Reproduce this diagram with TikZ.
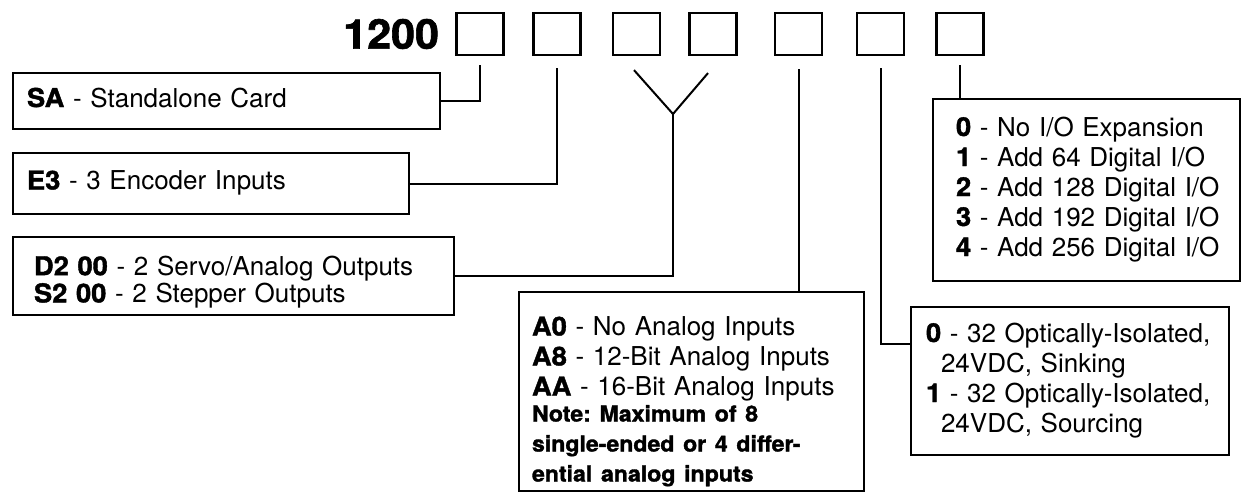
\documentclass[tikz,border=0pt]{standalone}
\usepackage{fontspec}
\setmainfont{TeX Gyre Heros}
\newfontfamily\blackfont{texgyreheros-bold.otf}[FakeBold=1.5,FakeStretch=1.05]
\usepackage{tikz}
\usetikzlibrary{positioning}
\frenchspacing
\newcommand{\optcode}[1]{{\blackfont #1}}
\newcommand{\optlist}[1]{\begin{tabular}{@{}l@{}}#1\end{tabular}}
\newcommand{\notefont}{\fontsize{11}{15}\selectfont\blackfont}
\tikzset{
    digitbox/.style={rectangle, draw, line width=1.1pt, minimum width=23.5pt, minimum height=21pt, inner sep=0pt},
    optbox/.style={rectangle, draw, line width=1pt, anchor=north west, align=left, inner ysep=0pt, font=\fontsize{13}{15}\selectfont},
    link/.style={draw, line width=1pt}
}

\begin{document}
\begin{tikzpicture}[x=0.5pt, y=-0.5pt]
    \useasboundingbox (0,0) rectangle (1243,498);
    \foreach \n/\x in {1/480,2/557,3/636.5,4/713,5/798.5,6/880.5,7/960}
        \node[digitbox] (d\n) at (\x,34) {};
    \node[left=8pt of d1, inner sep=0pt, font=\fontsize{20.5}{20.5}\selectfont\blackfont] (model) {1200};

    \node[optbox, text width=199.5pt, inner xsep=7pt, minimum height=28pt] (sa) at (12,72) {
        \optlist{\optcode{SA} - Standalone Card}};
    \node[optbox, text width=184pt, inner xsep=7pt, minimum height=30.5pt] (e3) at (12,152) {
        \optlist{\optcode{E3} - 3 Encoder Inputs}};
    \node[optbox, text width=199.5pt, inner xsep=10.5pt, minimum height=39pt, font=\fontsize{13}{13}\selectfont] (d2box) at (12,236) {
        \optlist{\noalign{\vskip 7pt}
        \optcode{D2 00} - 2 Servo/Analog Outputs\\
        \optcode{S2 00} - 2 Stepper Outputs}};
    \node[optbox, text width=159.5pt, inner xsep=6.5pt, minimum height=99.5pt] (a0) at (518,291) {
        \optlist{\noalign{\vskip 11pt}
        \optcode{A0} - No Analog Inputs\\
        \optcode{A8} - 12-Bit Analog Inputs\\
        \optcode{AA} - 16-Bit Analog Inputs\\ \noalign{\vskip-2pt}
        \notefont Note: Maximum of 8\\
        \notefont single-ended or 4 differ-\\
        \notefont ential analog inputs}};
    \node[optbox, text width=130.5pt, inner xsep=11.5pt, minimum height=91pt] (exp) at (932,98) {
        \optlist{\optcode{0} - No I/O Expansion\\
        \optcode{1} - Add 64 Digital I/O\\
        \optcode{2} - Add 128 Digital I/O\\
        \optcode{3} - Add 192 Digital I/O\\
        \optcode{4} - Add 256 Digital I/O}};
    \node[optbox, text width=144pt, inner xsep=7.5pt, minimum height=74pt] (iso) at (910,306) {
        \optlist{\optcode{0} - 32 Optically-Isolated,\\
        \hspace*{7.5pt}24VDC, Sinking\\
        \optcode{1} - 32 Optically-Isolated,\\
        \hspace*{7.5pt}24VDC, Sourcing}};

    \coordinate (vtip) at (673,114);
    \draw[link] ([yshift=-4.5pt]d1.south) |- (sa);
    \draw[link] ([yshift=-6pt]d2.south) |- (e3);
    \draw[link] ([xshift=-1.25pt,yshift=-7pt]d3.south) -- (vtip) -- ([xshift=-2.5pt,yshift=-8.5pt]d4.south);
    \draw[link] (vtip) |- (d2box);
    \draw[link] ([yshift=-6.5pt]d5.south) -- (d5 |- a0.north);
    \draw[link] ([yshift=-6pt]d6.south) |- ([yshift=18.5pt]iso.west);
    \draw[link] ([yshift=-4.5pt]d7.south) -- (d7 |- exp.north);
\end{tikzpicture}
\end{document}
